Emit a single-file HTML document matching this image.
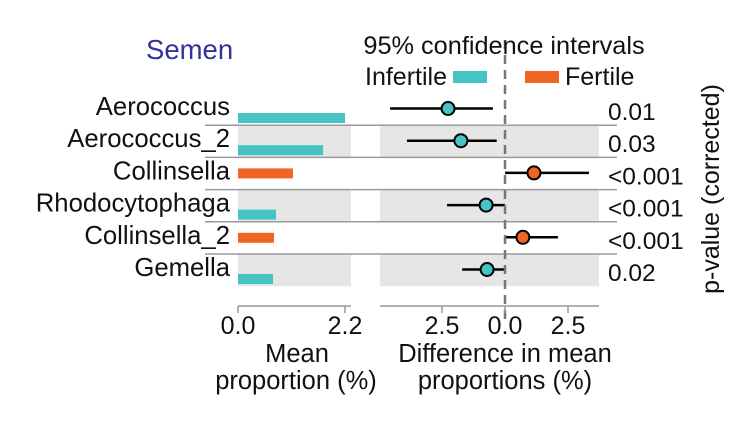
<!DOCTYPE html>
<html><head><meta charset="utf-8"><style>
html,body{margin:0;padding:0;background:#fff;}
svg{display:block;font-family:"Liberation Sans",Arial,sans-serif;}
</style></head><body>
<svg id="chart" width="748" height="444" viewBox="0 0 748 444">
<g id="bg"></g><g id="marks"></g><g id="labels"></g>
<text x="146" y="59" font-size="27.5" fill="#33339a">Semen</text>
<text x="504" y="54" font-size="25.3" text-anchor="middle" fill="#111">95% confidence intervals</text>
<g>
<text x="447" y="85" font-size="25" text-anchor="end" fill="#111">Infertile</text>
<rect x="453" y="71" width="34" height="12" fill="#45c3c5"/>
<rect x="525" y="71" width="34" height="12" fill="#f06524"/>
<text x="565" y="85" font-size="25" fill="#111">Fertile</text>
</g>
<text transform="translate(719,189) rotate(-90)" font-size="25" text-anchor="middle" fill="#111">p-value (corrected)</text>
<text x="297" y="362" font-size="25.5" text-anchor="middle" fill="#111">Mean</text>
<text x="296" y="389" font-size="25.5" text-anchor="middle" fill="#111">proportion (%)</text>
<text x="505" y="362" font-size="25.5" text-anchor="middle" fill="#111">Difference in mean</text>
<text x="505" y="389" font-size="25.5" text-anchor="middle" fill="#111">proportions (%)</text>
</svg>
<script>
const taxa=["Aerococcus","Aerococcus_2","Collinsella","Rhodocytophaga","Collinsella_2","Gemella"];
const meanProp=[2.2,1.75,1.13,0.78,0.74,0.72];
const group=["Infertile","Infertile","Fertile","Infertile","Fertile","Infertile"];
const diff=[-2.26,-1.75,1.15,-0.75,0.71,-0.71];
const ciLow=[-4.56,-3.89,0,-2.3,0,-1.7];
const ciHigh=[-0.48,-0.33,3.33,0,2.1,0];
const pvals=["0.01","0.03","<0.001","<0.001","<0.001","0.02"];
const leftTicks=[0,2.2];
const leftTickLabels=["0.0","2.2"];
const rightTicks=[-2.5,0,2.5];
const rightTickLabels=["2.5","0.0","2.5"];

const NS="http://www.w3.org/2000/svg";
const xL=v=>238+v*(107/2.2);
const xR=v=>505+v*25.2;
const rowTop=i=>93+i*32.2;
const col=g=>g==="Infertile"?"#45c3c5":"#f06524";
function mk(tag,attrs,parent){const e=document.createElementNS(NS,tag);for(const k in attrs)e.setAttribute(k,attrs[k]);document.getElementById(parent).appendChild(e);return e;}

taxa.forEach((t,i)=>{
  const top=rowTop(i);
  if(i%2===1){
    let g1=mk("rect",{x:238,y:top,width:113,height:32.2,fill:"#e6e6e6"},"bg");
    
    
    let g2=mk("rect",{x:380,y:top,width:219,height:32.2,fill:"#e6e6e6"},"bg");
    
    
  }
  if(i>0){
    let s=mk("line",{x1:205,x2:617,y1:top,y2:top,stroke:"#9a9a9a","stroke-width":1.5},"bg");
    
    
  }
  const by=group[i]==="Infertile"?top+20:top+11;
  let b=mk("rect",{x:xL(0),y:by,width:xL(meanProp[i])-xL(0),height:10,fill:col(group[i])},"marks");
  
  
  const cy=top+15.5;
  let l=mk("line",{x1:xR(ciLow[i]),x2:xR(ciHigh[i]),y1:cy,y2:cy,stroke:"#000","stroke-width":2.5},"marks");
  
  
  let c=mk("circle",{cx:xR(diff[i]),cy:cy,r:6.5,fill:col(group[i]),stroke:"#000","stroke-width":2},"marks");
  
  
  let tl=mk("text",{x:230,y:top+22,"font-size":25.7,"text-anchor":"end",fill:"#111"},"labels");
  tl.textContent=t;
  
  
  let pv=mk("text",{x:608,y:top+27,"font-size":24.5,"text-anchor":"start",fill:"#111"},"labels");
  pv.textContent=pvals[i];
  
  
});
let d=mk("line",{x1:505,x2:505,y1:40,y2:322,stroke:"#777","stroke-width":2.5,"stroke-dasharray":"9,6"},"marks");


let ax1=mk("line",{x1:238,x2:351,y1:306,y2:306,stroke:"#999","stroke-width":1.5},"labels");


let ax2=mk("line",{x1:380,x2:599,y1:306,y2:306,stroke:"#999","stroke-width":1.5},"labels");


leftTicks.forEach((v,i)=>{
  let tk=mk("line",{x1:xL(v),x2:xL(v),y1:306,y2:313,stroke:"#999","stroke-width":1.5},"labels");
  
  
  let tx=mk("text",{x:xL(v),y:334,"font-size":25,"text-anchor":"middle",fill:"#111"},"labels");
  tx.textContent=leftTickLabels[i];
  
  
});
rightTicks.forEach((v,i)=>{
  let tk=mk("line",{x1:xR(v),x2:xR(v),y1:306,y2:313,stroke:"#999","stroke-width":1.5},"labels");
  
  
  let tx=mk("text",{x:xR(v),y:334,"font-size":25,"text-anchor":"middle",fill:"#111"},"labels");
  tx.textContent=rightTickLabels[i];
  
  
});
</script>
</body></html>
